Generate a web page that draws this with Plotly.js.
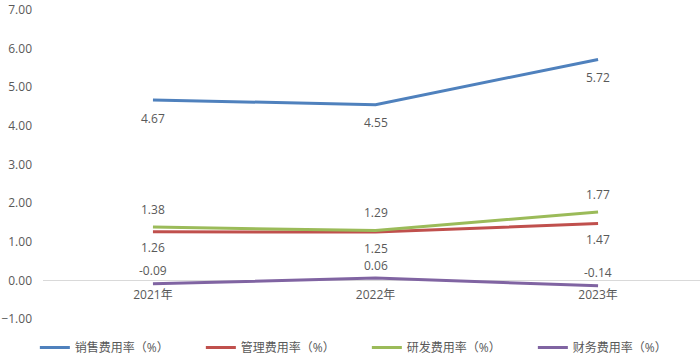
<!DOCTYPE html>
<html>
<head>
<meta charset="utf-8">
<script src="https://cdn.plot.ly/plotly-3.0.1.min.js"></script>
<style>html,body{margin:0;padding:0;background:#fff;}#chart{width:700px;height:356px;}</style>
</head>
<body>
<div id="chart"></div>
<script>
const categories = ["2021年", "2022年", "2023年"];
const seriesNames = ["销售费用率（%）", "管理费用率（%）", "研发费用率（%）", "财务费用率（%）"];
const salesRate = [4.67, 4.55, 5.72];
const adminRate = [1.26, 1.25, 1.47];
const rdRate = [1.38, 1.29, 1.77];
const financeRate = [-0.09, 0.06, -0.14];
const yTickVals = [-1, 0, 1, 2, 3, 4, 5, 6, 7];

const colors = ["#4F81BD", "#C0504D", "#9BBB59", "#8064A2"];
const labelShift = [-18, -16, 18, 13];
const allSeries = [salesRate, adminRate, rdRate, financeRate];
const fontFam = "Open Sans, Noto Sans CJK SC, sans-serif";

const traces = allSeries.map((vals, i) => ({
  type: "scatter",
  mode: "lines",
  name: seriesNames[i],
  x: categories,
  y: vals,
  line: {color: colors[i], width: 3},
  hoverinfo: "skip"
}));

const annotations = [];
allSeries.forEach((vals, i) => {
  vals.forEach((v, j) => {
    annotations.push({
      x: categories[j], y: v, xref: "x", yref: "y",
      text: v.toFixed(2), showarrow: false,
      yshift: labelShift[i], borderpad: 0,
      font: {family: fontFam, size: 12, color: "#595959"}
    });
  });
});

const layout = {
  width: 700, height: 356,
  margin: {l: 43, r: 0, t: 10, b: 37, autoexpand: false},
  paper_bgcolor: "#fff", plot_bgcolor: "#fff",
  font: {family: fontFam, size: 12, color: "#595959"},
  showlegend: true,
  legend: {
    orientation: "h", x: -0.0124, xanchor: "left", y: -0.092, yanchor: "middle",
    font: {family: fontFam, size: 12, color: "#595959"},
    entrywidth: 121, entrywidthmode: "pixels", itemwidth: 30, traceorder: "normal"
  },
  xaxis: {
    type: "category", range: [-0.494, 2.458],
    anchor: "free", position: 0.125,
    showgrid: false, showline: false, zeroline: false,
    ticks: "", ticklabelstandoff: 6, automargin: false,
    tickfont: {family: fontFam, size: 12, color: "#595959"}
  },
  yaxis: {
    range: [-1, 7], tickvals: yTickVals, tickformat: ".2f",
    showgrid: false, showline: false, automargin: false,
    zeroline: true, zerolinecolor: "#D9D9D9", zerolinewidth: 1,
    ticks: "", ticklabelstandoff: 10,
    tickfont: {family: fontFam, size: 12, color: "#595959"}
  },
  annotations: annotations
};

Plotly.newPlot("chart", traces, layout, {displayModeBar: false, staticPlot: true});
</script>
</body>
</html>
